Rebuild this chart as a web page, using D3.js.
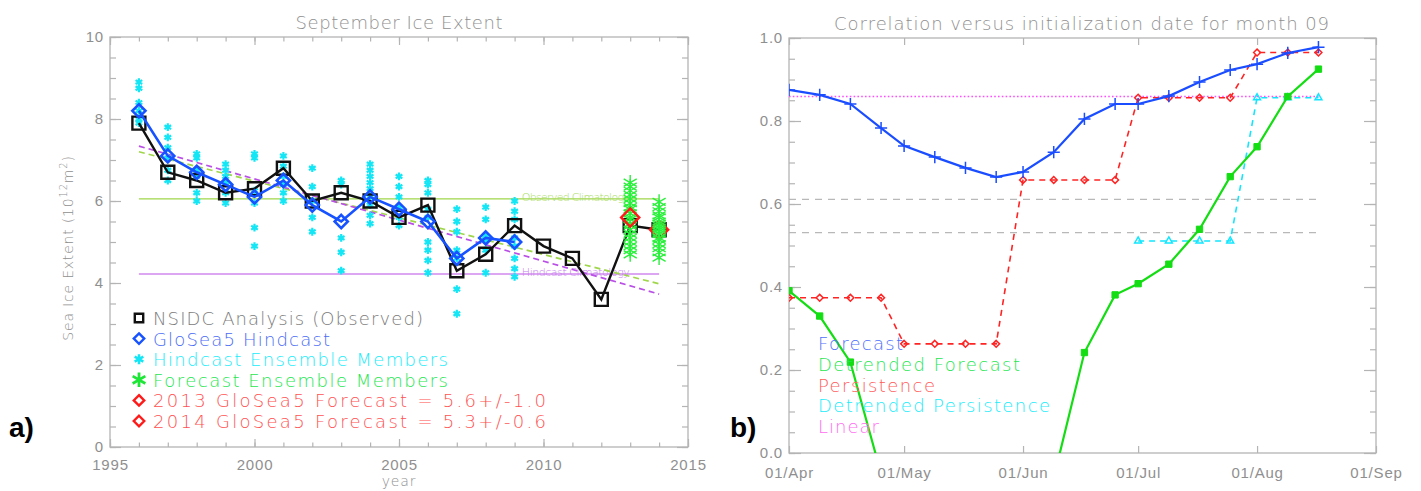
<!DOCTYPE html>
<html>
<head>
<meta charset="utf-8">
<script src="https://cdn.jsdelivr.net/npm/d3@7"></script>
<style>
  body { margin: 0; background: #fff; }
  svg { display: block; font-family: "DejaVu Sans", "Liberation Sans", sans-serif; font-weight: 200; }
</style>
</head>
<body>
<svg id="chart" width="1421" height="491"></svg>
<script>
// ---------- Panel a: September sea-ice extent (10^12 m^2) ----------
const years = [1996, 1997, 1998, 1999, 2000, 2001, 2002, 2003, 2004, 2005,
               2006, 2007, 2008, 2009, 2010, 2011, 2012, 2013, 2014];
const observedExtent = [7.9, 6.7, 6.5, 6.2, 6.3, 6.8, 6.0, 6.2, 6.0, 5.6,
                        5.9, 4.3, 4.7, 5.4, 4.9, 4.6, 3.6, 5.4, 5.3];

const hindcastYears = [1996, 1997, 1998, 1999, 2000, 2001, 2002, 2003, 2004,
                       2005, 2006, 2007, 2008, 2009];
const hindcastExtent = [8.2, 7.1, 6.7, 6.4, 6.1, 6.5, 5.9, 5.5, 6.1, 5.8, 5.5, 4.6, 5.1, 5.0];
const hindcastMembers = [
  [8.9, 8.75, 8.4, 8.2, 8.0, 7.9],
  [7.8, 7.55, 7.3, 7.05, 6.75, 6.5],
  [7.15, 7.05, 6.75, 6.6, 6.2, 6.0],
  [6.9, 6.75, 6.6, 6.45, 6.2, 5.95],
  [7.15, 7.05, 6.25, 5.95, 5.35, 4.9],
  [7.1, 6.85, 6.6, 6.4, 6.2, 6.0],
  [6.8, 6.35, 6.0, 5.6, 5.25],
  [6.5, 6.4, 5.1, 4.75, 4.3],
  [6.9, 6.75, 6.6, 6.45, 6.3, 6.1, 5.9, 5.65, 5.45],
  [6.6, 6.35, 6.1, 5.85, 5.6, 5.4],
  [6.5, 6.4, 6.2, 5.8, 5.6, 5.0, 4.8, 4.55, 4.25],
  [5.8, 5.5, 5.25, 4.8, 4.6, 3.85, 3.25],
  [5.85, 5.55, 5.15, 5.05, 4.8, 4.25],
  [6.0, 5.75, 5.55, 5.1, 4.9, 4.6, 4.35, 4.15]
];

const forecastYears = [2013, 2014];
const forecastMembers = [
  [6.45, 6.35, 6.25, 6.15, 6.05, 5.95, 5.85, 5.8, 5.7, 5.6, 5.55, 5.45, 5.4, 5.3, 5.2, 5.1, 5.0, 4.9, 4.8, 4.7],
  [5.98, 5.85, 5.75, 5.65, 5.6, 5.5, 5.45, 5.4, 5.35, 5.3, 5.25, 5.2, 5.1, 5.05, 4.95, 4.85, 4.75, 4.62]
];
const forecastMean = [5.6, 5.3];
const forecastSpread = [1.0, 0.6];

const observedClimatology = 6.05;
const hindcastClimatology = 4.22;
const trendYears = [1996, 2014];
const observedTrend = [7.2, 3.98];
const hindcastTrend = [7.34, 3.73];

const yearTicks = [1995, 2000, 2005, 2010, 2015];
const extentTicks = [0, 2, 4, 6, 8, 10];

// ---------- Panel b: correlation vs initialization date, month 09 ----------
const initDates = ["2014-04-01", "2014-04-09", "2014-04-17", "2014-04-25",
                   "2014-05-01", "2014-05-09", "2014-05-17", "2014-05-25",
                   "2014-06-01", "2014-06-09", "2014-06-17", "2014-06-25",
                   "2014-07-01", "2014-07-09", "2014-07-17", "2014-07-25",
                   "2014-08-01", "2014-08-09", "2014-08-17"];
const forecastCorr = [0.875, 0.863, 0.841, 0.783, 0.740, 0.713, 0.687, 0.665,
                      0.677, 0.725, 0.805, 0.841, 0.841, 0.860, 0.894, 0.923,
                      0.937, 0.964, 0.978];
const detrendedForecastCorr = [0.391, 0.330, 0.219, -0.05, -0.12, -0.18, -0.20, -0.17,
                               -0.12, -0.06, 0.242, 0.381, 0.408, 0.455, 0.539, 0.666,
                               0.738, 0.859, 0.925];
const persistenceCorr = [0.374, 0.374, 0.374, 0.374, 0.263, 0.263, 0.263, 0.263,
                         0.658, 0.658, 0.658, 0.658, 0.856, 0.856, 0.856, 0.856,
                         0.965, 0.965, 0.965];
const detrendedPersistenceCorr = [null, null, null, null, null, null, null, null,
                                  null, null, null, null, 0.511, 0.511, 0.511, 0.511,
                                  0.856, 0.856, 0.856];
const linearCorr = 0.859;
const significanceLevels = [0.611, 0.531];

const monthTicks = ["2014-04-01", "2014-05-01", "2014-06-01", "2014-07-01", "2014-08-01", "2014-09-01"];
const monthLabels = ["01/Apr", "01/May", "01/Jun", "01/Jul", "01/Aug", "01/Sep"];
const corrTicks = [0.0, 0.2, 0.4, 0.6, 0.8, 1.0];

const seriesNames = ["Forecast", "Detrended Forecast", "Persistence", "Detrended Persistence", "Linear"];

// ---------- shared styling ----------
const AXIS = "#b4b4b4";
const LABEL = "#8f8f8f";
const svg = d3.select("#chart");
const parse = d3.timeParse("%Y-%m-%d");

function frame(g, box) {
  g.append("rect")
    .attr("x", box.left).attr("y", box.top)
    .attr("width", box.right - box.left).attr("height", box.bottom - box.top)
    .attr("fill", "none").attr("stroke", AXIS).attr("stroke-width", 1.3);
}

// inward tick marks on all four sides, labels on bottom/left only
function ticks(g, axisGen, translate, labelled, fontSize) {
  const a = g.append("g").attr("transform", translate).call(axisGen);
  a.select(".domain").remove();
  a.selectAll(".tick line").attr("stroke", AXIS).attr("stroke-width", 1.2);
  a.selectAll(".tick text").attr("fill", LABEL).attr("font-size", fontSize)
    .attr("font-family", null).attr("letter-spacing", 0.8);
  if (!labelled) a.selectAll(".tick text").remove();
  return a;
}

function fitText(sel, width) {
  sel.attr("textLength", width).attr("lengthAdjust", "spacing");
}

// ================= Panel a =================
const A = { left: 110, right: 688, top: 37, bottom: 447 };
const xA = d3.scaleLinear().domain([1995, 2015]).range([A.left, A.right]);
const yA = d3.scaleLinear().domain([0, 10]).range([A.bottom, A.top]);
const gA = svg.append("g");

const minorYears = d3.range(1995, 2016);
const minorExtent = d3.range(0, 10.01, 0.5);

frame(gA, A);
ticks(gA, d3.axisBottom(xA).tickValues(minorYears).tickSize(-4.5).tickFormat(""), `translate(0,${A.bottom})`, false, 15);
ticks(gA, d3.axisBottom(xA).tickValues(yearTicks).tickSize(-8).tickPadding(12).tickFormat(d3.format("d")), `translate(0,${A.bottom})`, true, 15);
ticks(gA, d3.axisTop(xA).tickValues(minorYears).tickSize(-4.5).tickFormat(""), `translate(0,${A.top})`, false, 15);
ticks(gA, d3.axisTop(xA).tickValues(yearTicks).tickSize(-8).tickFormat(""), `translate(0,${A.top})`, false, 15);
ticks(gA, d3.axisLeft(yA).tickValues(minorExtent).tickSize(-6).tickFormat(""), `translate(${A.left},0)`, false, 15);
ticks(gA, d3.axisLeft(yA).tickValues(extentTicks).tickSize(-11).tickPadding(6).tickFormat(d3.format("d")), `translate(${A.left},0)`, true, 15);
ticks(gA, d3.axisRight(yA).tickValues(minorExtent).tickSize(-6).tickFormat(""), `translate(${A.right},0)`, false, 15);
ticks(gA, d3.axisRight(yA).tickValues(extentTicks).tickSize(-11).tickFormat(""), `translate(${A.right},0)`, false, 15);

// titles
fitText(gA.append("text").attr("x", (A.left + A.right) / 2).attr("y", 29)
  .attr("text-anchor", "middle").attr("font-size", 18).attr("fill", LABEL)
  .text("September Ice Extent"), 207);
gA.append("text").attr("x", (A.left + A.right) / 2).attr("y", 486)
  .attr("text-anchor", "middle").attr("font-size", 14).attr("fill", LABEL)
  .attr("letter-spacing", 0.8).text("year");
const yTitle = gA.append("text").attr("transform", "translate(73,248) rotate(-90)")
  .attr("text-anchor", "middle").attr("font-size", 14).attr("fill", LABEL)
  .attr("letter-spacing", 0.8);
yTitle.append("tspan").text("Sea Ice Extent (10");
yTitle.append("tspan").attr("font-size", 10).attr("dy", -6).text("12");
yTitle.append("tspan").attr("font-size", 14).attr("dy", 6).text("m");
yTitle.append("tspan").attr("font-size", 10).attr("dy", -6).text("2");
yTitle.append("tspan").attr("font-size", 14).attr("dy", 6).text(")");

// climatology reference lines
const climA = [
  { value: observedClimatology, color: "#9fd64a", textColor: "#a9dc66", name: "Observed Climatology" },
  { value: hindcastClimatology, color: "#b94fe6", textColor: "#c67ded", name: "Hindcast Climatology" }
];
climA.forEach(c => {
  gA.append("line")
    .attr("x1", xA(trendYears[0])).attr("x2", xA(trendYears[1]))
    .attr("y1", yA(c.value)).attr("y2", yA(c.value))
    .attr("stroke", c.color).attr("stroke-width", 1.2);
  fitText(gA.append("text").attr("x", xA(2009.25)).attr("y", yA(c.value) + 2)
    .attr("font-size", 11).attr("fill", c.textColor).text(c.name), 108);
});

// linear trends
const trendLine = d3.line().x(d => xA(d[0])).y(d => yA(d[1]));
[
  { values: observedTrend, color: "#9fd64a" },
  { values: hindcastTrend, color: "#b94fe6" }
].forEach(t => {
  gA.append("path").attr("d", trendLine(trendYears.map((yr, i) => [yr, t.values[i]])))
    .attr("fill", "none").attr("stroke", t.color).attr("stroke-width", 1.7)
    .attr("stroke-dasharray", "6,4");
});

// hindcast ensemble members
const cyanStar = d3.symbol().type(d3.symbolAsterisk).size(42);
hindcastYears.forEach((yr, i) => {
  gA.selectAll(null).data(hindcastMembers[i]).enter().append("path")
    .attr("d", cyanStar)
    .attr("transform", v => `translate(${xA(yr)},${yA(v)})`)
    .attr("fill", "none").attr("stroke", "#14e6f5").attr("stroke-width", 2.2);
});

const redDiamond = d3.symbol().type(d3.symbolDiamond2).size(210);
const greenStar = d3.symbol().type(d3.symbolAsterisk).size(160);

// observations
const lineA = d3.line().x((d, i) => xA(years[i])).y(d => yA(d));
gA.append("path").attr("d", lineA(observedExtent))
  .attr("fill", "none").attr("stroke", "#111").attr("stroke-width", 2.4);
const squareSym = d3.symbol().type(d3.symbolSquare2).size(215);
gA.selectAll(null).data(observedExtent).enter().append("path")
  .attr("d", squareSym)
  .attr("transform", (d, i) => `translate(${xA(years[i])},${yA(d)})`)
  .attr("fill", "none").attr("stroke", "#111").attr("stroke-width", 2.4);

// forecast ensemble members and means (2014 mean sits beneath its members)
forecastYears.forEach((yr, i) => {
  if (i === 1) {
    gA.append("path").attr("d", redDiamond)
      .attr("transform", `translate(${xA(yr)},${yA(forecastMean[i])})`)
      .attr("fill", "none").attr("stroke", "#ff1a1a").attr("stroke-width", 2.4);
  }
  gA.selectAll(null).data(forecastMembers[i]).enter().append("path")
    .attr("d", greenStar)
    .attr("transform", v => `translate(${xA(yr)},${yA(v)})`)
    .attr("fill", "none").attr("stroke", "#2af03c").attr("stroke-width", 1.4);
  if (i === 0) {
    gA.append("path").attr("d", redDiamond)
      .attr("transform", `translate(${xA(yr)},${yA(forecastMean[i])})`)
      .attr("fill", "none").attr("stroke", "#ff1a1a").attr("stroke-width", 2.4);
  }
});

// hindcast mean
const lineH = d3.line().x((d, i) => xA(hindcastYears[i])).y(d => yA(d));
gA.append("path").attr("d", lineH(hindcastExtent))
  .attr("fill", "none").attr("stroke", "#1652ff").attr("stroke-width", 2.6);
const blueDiamond = d3.symbol().type(d3.symbolDiamond2).size(110);
gA.selectAll(null).data(hindcastExtent).enter().append("path")
  .attr("d", blueDiamond)
  .attr("transform", (d, i) => `translate(${xA(hindcastYears[i])},${yA(d)})`)
  .attr("fill", "none").attr("stroke", "#1652ff").attr("stroke-width", 2.6);

// legend
const legendA = [
  { text: "NSIDC Analysis (Observed)", color: "#7c7c7c", sym: d3.symbolSquare2, size: 90, stroke: "#111", sw: 2.4, w: 270 },
  { text: "GloSea5 Hindcast", color: "#4a6cf5", sym: d3.symbolDiamond2, size: 70, stroke: "#1652ff", sw: 2.4, w: 177 },
  { text: "Hindcast Ensemble Members", color: "#18ecfb", sym: d3.symbolAsterisk, size: 70, stroke: "#14e6f5", sw: 2.6, w: 295 },
  { text: "Forecast Ensemble Members", color: "#1ee652", sym: d3.symbolAsterisk, size: 150, stroke: "#1ee636", sw: 2.8, w: 295 },
  { text: `${forecastYears[0]} GloSea5 Forecast = ${forecastMean[0].toFixed(1)}+/-${forecastSpread[0].toFixed(1)}`, color: "#ff5252", sym: d3.symbolDiamond2, size: 70, stroke: "#ff1a1a", sw: 2.4, w: 393 },
  { text: `${forecastYears[1]} GloSea5 Forecast = ${forecastMean[1].toFixed(1)}+/-${forecastSpread[1].toFixed(1)}`, color: "#ff5252", sym: d3.symbolDiamond2, size: 70, stroke: "#ff1a1a", sw: 2.4, w: 393 }
];
legendA.forEach((d, i) => {
  const base = 325 + i * 20.6;
  gA.append("path").attr("d", d3.symbol().type(d.sym).size(d.size)())
    .attr("transform", `translate(139,${base - 7})`)
    .attr("fill", "none").attr("stroke", d.stroke).attr("stroke-width", d.sw);
  fitText(gA.append("text").attr("x", 153).attr("y", base)
    .attr("font-size", 18).attr("fill", d.color).text(d.text), d.w);
});

svg.append("text").attr("x", 9).attr("y", 437).attr("font-family", "Liberation Sans, Arial, sans-serif")
  .attr("font-weight", "bold").attr("font-size", 28).attr("fill", "#000").text("a)");

// ================= Panel b =================
const B = { left: 789, right: 1376, top: 38, bottom: 453 };
const dates = initDates.map(parse);
const xB = d3.scaleTime().domain([parse(monthTicks[0]), parse(monthTicks[monthTicks.length - 1])]).range([B.left, B.right]);
const yB = d3.scaleLinear().domain([0, 1]).range([B.bottom, B.top]);
const gB = svg.append("g");

const monthDates = monthTicks.map(parse);
const minorCorr = d3.range(0, 1.001, 0.05);
frame(gB, B);
ticks(gB, d3.axisBottom(xB).tickValues(monthDates).tickSize(-7).tickPadding(14)
  .tickFormat((d, i) => monthLabels[i]), `translate(0,${B.bottom})`, true, 15);
ticks(gB, d3.axisTop(xB).tickValues(monthDates).tickSize(-7).tickFormat(""), `translate(0,${B.top})`, false, 15);
ticks(gB, d3.axisLeft(yB).tickValues(minorCorr).tickSize(-6).tickFormat(""), `translate(${B.left},0)`, false, 15);
ticks(gB, d3.axisLeft(yB).tickValues(corrTicks).tickSize(-12).tickPadding(6).tickFormat(d3.format(".1f")), `translate(${B.left},0)`, true, 15);
ticks(gB, d3.axisRight(yB).tickValues(minorCorr).tickSize(-6).tickFormat(""), `translate(${B.right},0)`, false, 15);
ticks(gB, d3.axisRight(yB).tickValues(corrTicks).tickSize(-12).tickFormat(""), `translate(${B.right},0)`, false, 15);

fitText(gB.append("text").attr("x", 1081.5).attr("y", 30)
  .attr("text-anchor", "middle").attr("font-size", 18).attr("fill", LABEL)
  .text("Correlation versus initialization date for month 09"), 495);

svg.append("defs").append("clipPath").attr("id", "clipB")
  .append("rect").attr("x", B.left).attr("y", B.top)
  .attr("width", B.right - B.left).attr("height", B.bottom - B.top);
const plotB = gB.append("g").attr("clip-path", "url(#clipB)");

const firstDate = dates[0], lastDate = dates[dates.length - 1];
significanceLevels.forEach(v => {
  plotB.append("line").attr("x1", xB(firstDate)).attr("x2", xB(lastDate))
    .attr("y1", yB(v)).attr("y2", yB(v))
    .attr("stroke", "#b8b8b8").attr("stroke-width", 1.3).attr("stroke-dasharray", "7,6");
});
plotB.append("line").attr("x1", xB(firstDate)).attr("x2", xB(lastDate))
  .attr("y1", yB(linearCorr)).attr("y2", yB(linearCorr))
  .attr("stroke", "#ff4dff").attr("stroke-width", 1.6).attr("stroke-dasharray", "1.6,2.2");

const lineB = d3.line().defined(d => d != null).x((d, i) => xB(dates[i])).y(d => yB(d));

function series(values, color, width, dash, symType, symSize, filled) {
  plotB.append("path").attr("d", lineB(values))
    .attr("fill", "none").attr("stroke", color).attr("stroke-width", width)
    .attr("stroke-dasharray", dash);
  plotB.selectAll(null).data(values.map((v, i) => ({ v, i })).filter(d => d.v != null))
    .enter().append("path")
    .attr("d", d3.symbol().type(symType).size(symSize))
    .attr("transform", d => `translate(${xB(dates[d.i])},${yB(d.v)})`)
    .attr("fill", filled ? color : "none").attr("stroke", color).attr("stroke-width", filled ? 1 : 1.5);
}

series(persistenceCorr, "#ff2424", 1.6, "6,5", d3.symbolDiamond2, 30, false);
series(detrendedPersistenceCorr, "#12e6ff", 1.6, "6,5", d3.symbolTriangle2, 34, false);
series(detrendedForecastCorr, "#14dd14", 2.2, null, d3.symbolSquare, 40, true);
series(forecastCorr, "#1a4dff", 2.2, null, d3.symbolPlus, 50, false);

const legendColors = ["#4e6ffb", "#1ee652", "#ff5a5a", "#18ecfb", "#ff6cf0"];
const legendWidths = [85, 202, 117, 232, 61];
seriesNames.forEach((name, i) => {
  fitText(gB.append("text").attr("x", 818).attr("y", 350 + i * 20.8)
    .attr("font-size", 18).attr("fill", legendColors[i]).text(name), legendWidths[i]);
});

svg.append("text").attr("x", 730).attr("y", 437).attr("font-family", "Liberation Sans, Arial, sans-serif")
  .attr("font-weight", "bold").attr("font-size", 28).attr("fill", "#000").text("b)");
</script>
</body>
</html>
